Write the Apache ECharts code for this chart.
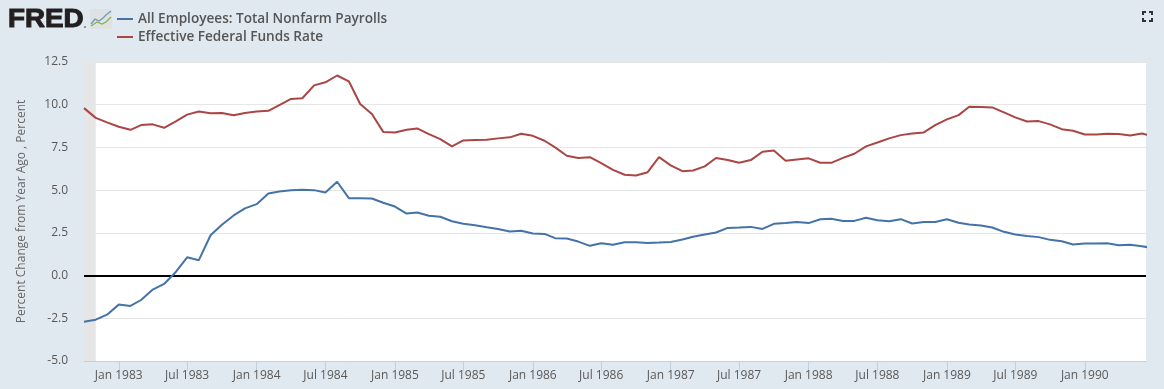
<!DOCTYPE html>
<html><head><meta charset="utf-8">
<style>html,body{margin:0;padding:0;background:#e1e9f0}#c{width:1164px;height:389px}</style>
<script src="https://cdn.jsdelivr.net/npm/echarts@6/dist/echarts.min.js"></script>
</head><body><div id="c"></div>
<script>
const startYear = 1982, startMonth = 9; // first observation: Oct 1982
const payrolls = [-2.70,-2.58,-2.29,-1.70,-1.78,-1.43,-0.82,-0.49,0.21,1.07,0.90,2.36,2.97,3.52,3.93,4.18,4.80,4.92,5.00,5.02,5.00,4.86,5.49,4.53,4.53,4.51,4.26,4.04,3.63,3.69,
3.50,3.44,3.18,3.03,2.95,2.83,2.73,2.58,2.62,2.46,2.44,2.19,2.17,1.99,1.74,1.89,1.80,1.95,1.95,1.91,1.93,1.97,2.11,2.27,2.40,2.52,2.79,2.81,2.85,2.73,3.03,3.07,
3.14,3.07,3.30,3.32,3.20,3.20,3.38,3.24,3.18,3.30,3.05,3.14,3.14,3.30,3.09,2.99,2.93,2.81,2.56,2.40,2.32,2.25,2.09,2.01,1.82,1.88,1.88,1.89,1.78,1.80,1.72,1.60];
const fedFunds = [9.80,9.23,8.97,8.71,8.53,8.81,8.85,8.65,9.03,9.42,9.60,9.50,9.52,9.38,9.52,9.60,9.64,9.98,10.34,10.38,11.13,11.31,11.71,11.37,10.04,9.46,8.41,8.37,8.53,8.61,
8.28,7.99,7.56,7.91,7.93,7.95,8.03,8.09,8.30,8.18,7.89,7.50,7.01,6.88,6.93,6.58,6.19,5.90,5.86,6.05,6.93,6.45,6.11,6.15,6.39,6.88,6.76,6.60,6.76,7.25,7.32,6.72,
6.80,6.86,6.60,6.60,6.89,7.13,7.56,7.79,8.03,8.22,8.32,8.38,8.81,9.14,9.39,9.88,9.86,9.84,9.55,9.26,9.02,9.04,8.85,8.57,8.48,8.26,8.26,8.30,8.28,8.20,8.32,8.15];
const tickDates = ['1983-01-01','1983-07-01','1984-01-01','1984-07-01','1985-01-01','1985-07-01','1986-01-01','1986-07-01','1987-01-01','1987-07-01','1988-01-01','1988-07-01','1989-01-01','1989-07-01','1990-01-01'];
const tickLabels = ['Jan 1983','Jul 1983','Jan 1984','Jul 1984','Jan 1985','Jul 1985','Jan 1986','Jul 1986','Jan 1987','Jul 1987','Jan 1988','Jul 1988','Jan 1989','Jul 1989','Jan 1990'];
const recession = ['1982-10-01','1982-11-01'];
const axisStart = '1982-10-01', axisEnd = '1990-06-12';
const seriesNames = ['All Employees: Total Nonfarm Payrolls','Effective Federal Funds Rate'];
const yTitle = 'Percent Change from Year Ago , Percent';

const p2 = n => String(n).padStart(2,'0');
const dates = payrolls.map((_,i)=>{const m=startYear*12+startMonth+i;return Math.floor(m/12)+'-'+p2(m%12+1)+'-01';});
const ms = s => { const [y,m,d]=s.split('-').map(Number); return Date.UTC(y,m-1,d); };
const tickMs = tickDates.map(ms);
const labelFor = v => { const k=tickMs.indexOf(+v); return k>=0?tickLabels[k]:''; };

const chart = echarts.init(document.getElementById('c'),null,{renderer:'canvas'});
const font = '"Open Sans"';
chart.setOption({
  animation:false,
  backgroundColor:'#e1e9f0',
  grid:{left:84,right:18,top:62,bottom:28,backgroundColor:'#ffffff',show:true,borderWidth:0},
  legend:{
    left:112,top:7,orient:'vertical',itemGap:4,itemWidth:16,itemHeight:2,icon:'rect',
    selectedMode:false,
    textStyle:{fontFamily:font,fontSize:13.6,fontWeight:600,color:'#555555',lineHeight:13},
    data:seriesNames
  },
  xAxis:{
    type:'value',min:ms(axisStart),max:ms(axisEnd),
    axisLine:{onZero:false,lineStyle:{color:'#c0d0e0',width:1}},
    axisTick:{show:true,length:10,lineStyle:{color:'#c0d0e0'},customValues:tickMs},
    axisLabel:{customValues:tickMs,formatter:labelFor,fontFamily:font,fontSize:12,color:'#595959',margin:9,hideOverlap:false},
    splitLine:{show:false}
  },
  yAxis:{
    type:'value',min:-5,max:12.5,interval:2.5,
    name:yTitle,nameLocation:'middle',nameGap:56,nameRotate:90,
    nameTextStyle:{fontFamily:font,fontSize:12,color:'#666666'},
    axisLine:{show:false},axisTick:{show:false},
    axisLabel:{formatter:v=>v.toFixed(1),fontFamily:font,fontSize:12,color:'#595959',margin:16},
    splitLine:{lineStyle:{color:'#e6e6e6',width:1}}
  },
  series:[
    {name:seriesNames[0],type:'line',showSymbol:false,symbol:'none',
     lineStyle:{color:'#4572a7',width:2},itemStyle:{color:'#4572a7'},
     data:dates.map((d,i)=>[ms(d),payrolls[i]]),z:4,
     markArea:{silent:true,itemStyle:{color:'#e6e6e6'},data:[[{xAxis:ms(recession[0])},{xAxis:ms(recession[1])}]]},
     markLine:{silent:true,symbol:'none',label:{show:false},lineStyle:{color:'#000000',width:2,type:'solid'},data:[{yAxis:0}],z:3}
    },
    {name:seriesNames[1],type:'line',showSymbol:false,symbol:'none',
     lineStyle:{color:'#aa4643',width:2},itemStyle:{color:'#aa4643'},
     data:dates.map((d,i)=>[ms(d),fedFunds[i]]),z:4}
  ],
  graphic:[
    {type:'text',x:8,y:20,scaleX:1.11,style:{text:'FRED',fontFamily:'"Liberation Sans"',fontWeight:'bold',fontSize:25,verticalAlign:'middle',fill:'#231f20',stroke:'#231f20',lineWidth:1}},
    {type:'circle',shape:{cx:85,cy:27,r:1},style:{fill:'#777'}},
    {type:'rect',shape:{x:90,y:9,width:22,height:20,r:2},style:{fill:'#dfe2e2'}},
    {type:'polyline',shape:{points:[[91,24],[95,19],[99,21],[103,18],[106,15],[111,11]]},style:{stroke:'#6a9ac0',fill:null,lineWidth:1.3}},
    {type:'polyline',shape:{points:[[91,26],[97,22],[102,24],[106,22],[111,17]]},style:{stroke:'#8db04a',fill:null,lineWidth:1.3}},
    {type:'polyline',shape:{points:[[1143,15],[1143,12],[1146,12]]},style:{stroke:'#333',fill:null,lineWidth:2}},
    {type:'polyline',shape:{points:[[1149,12],[1152,12],[1152,15]]},style:{stroke:'#333',fill:null,lineWidth:2}},
    {type:'polyline',shape:{points:[[1143,18],[1143,21],[1146,21]]},style:{stroke:'#333',fill:null,lineWidth:2}},
    {type:'polyline',shape:{points:[[1149,21],[1152,21],[1152,18]]},style:{stroke:'#333',fill:null,lineWidth:2}}
  ]
});
</script></body></html>
